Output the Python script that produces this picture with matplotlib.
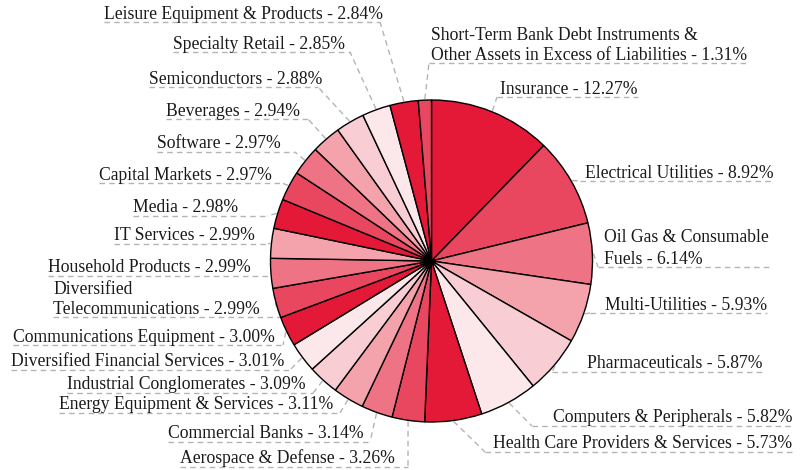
import matplotlib
matplotlib.use("Agg")
import matplotlib.pyplot as plt
import numpy as np

# ---------------- data ----------------
categories = [
    "Insurance",
    "Electrical Utilities",
    "Oil Gas & Consumable\nFuels",
    "Multi-Utilities",
    "Pharmaceuticals",
    "Computers & Peripherals",
    "Health Care Providers & Services",
    "Aerospace & Defense",
    "Commercial Banks",
    "Energy Equipment & Services",
    "Industrial Conglomerates",
    "Diversified Financial Services",
    "Communications Equipment",
    "Diversified\nTelecommunications",
    "Household Products",
    "IT Services",
    "Media",
    "Capital Markets",
    "Software",
    "Beverages",
    "Semiconductors",
    "Specialty Retail",
    "Leisure Equipment & Products",
    "Short-Term Bank Debt Instruments &\nOther Assets in Excess of Liabilities",
]
values = [12.27, 8.92, 6.14, 5.93, 5.87, 5.82, 5.73, 3.26, 3.14, 3.11, 3.09,
          3.01, 3.00, 2.99, 2.99, 2.99, 2.98, 2.97, 2.97, 2.94, 2.88, 2.85,
          2.84, 1.31]

# ---------------- style ----------------
palette = ["#E31937", "#E8475F", "#EE7485", "#F4A3AC", "#F8CDD3", "#FCE8EB"]
color_index = [0, 1, 2, 3, 4, 5, 0, 1, 2, 3, 4, 5, 0, 1, 2, 3,
               0, 1, 2, 3, 4, 5, 0, 1]
colors = [palette[i] for i in color_index]

W, H = 803, 470
CX, CY, R = 431.5, 261.0, 161.0          # pie centre / radius (pixels, top origin)

# label layout: side, text anchor x, underline y, underline inner end x (pixels, top origin)
label_side = ["R", "R", "R", "R", "R", "R", "R", "L", "L", "L", "L", "L",
              "L", "L", "L", "L", "L", "L", "L", "L", "L", "L", "L", "R"]
label_x = [500, 585, 604, 605, 587, 553, 493, 395, 364, 333, 306, 284,
           275, 260, 251, 255, 238, 272, 281, 300, 322, 345, 383, 431]
label_uy = [97, 181, 267, 313, 372, 426, 452, 467, 442, 413, 393, 370,
            345, 317, 276, 244, 216, 183, 152, 119, 87, 52, 22, 63]
line_inner_x = [497, 580, 598, 590, 552, 532, 485, 408, 370, 340, 313, 290,
                283, 282, 278, 268, 267, 282, 295, 308, 318, 350, 380, 429]
label_linespacing = [1.2, 1.2, 1.38, 1.2, 1.2, 1.2, 1.2, 1.2, 1.2, 1.2, 1.2, 1.2,
                     1.2, 1.16, 1.2, 1.2, 1.2, 1.2, 1.2, 1.2, 1.2, 1.2, 1.2, 1.21]

plt.rcParams["font.family"] = ["Liberation Serif", "DejaVu Serif"]
FS = 12.7
TEXT_COLOR = "#1a1a1a"
LINE_COLOR = "#b4b4b4"

fig = plt.figure(figsize=(W / 100, H / 100), dpi=100)
ax = fig.add_axes([0, 0, 1, 1])

def py(y):
    return H - y

ax.pie(values, colors=colors, startangle=90, counterclock=False,
       center=(CX, py(CY)), radius=R,
       wedgeprops=dict(edgecolor="black", linewidth=1.0))
ax.set_xlim(0, W)
ax.set_ylim(0, H)
ax.set_aspect("equal")
ax.axis("off")

texts = []
for name, v, side, x, uy, ls in zip(categories, values, label_side, label_x,
                                    label_uy, label_linespacing):
    s = f"{name} - {v:.2f}%"
    t = ax.text(x, py(uy) - 0.5, s, fontsize=FS, color=TEXT_COLOR,
                ha="left" if side == "R" else "right", va="bottom",
                multialignment="left", linespacing=ls)
    texts.append(t)

fig.canvas.draw()
renderer = fig.canvas.get_renderer()
inv = ax.transData.inverted()

cum = np.cumsum([0] + values[:-1])
total = sum(values)
for i, (t, v) in enumerate(zip(texts, values)):
    bb = t.get_window_extent(renderer)
    (x0, _), (x1, _) = inv.transform([[bb.x0, bb.y0], [bb.x1, bb.y1]])
    uy = py(label_uy[i])
    inner = line_inner_x[i]
    if label_side[i] == "R":
        xa, xb = inner, max(x1, inner)
    else:
        xa, xb = min(x0, inner), inner
    ax.plot([xa, xb], [uy, uy], color=LINE_COLOR, lw=1.0, ls=(0, (4, 3)),
            zorder=0)
    mid = (cum[i] + v / 2) / total * 2 * np.pi
    ex = CX + (R + 1) * np.sin(mid)
    ey = CY - (R + 1) * np.cos(mid)
    ax.plot([ex, inner], [py(ey), uy], color=LINE_COLOR, lw=1.0,
            ls=(0, (4, 3)), zorder=0)

fig.savefig("out.png", dpi=100)
